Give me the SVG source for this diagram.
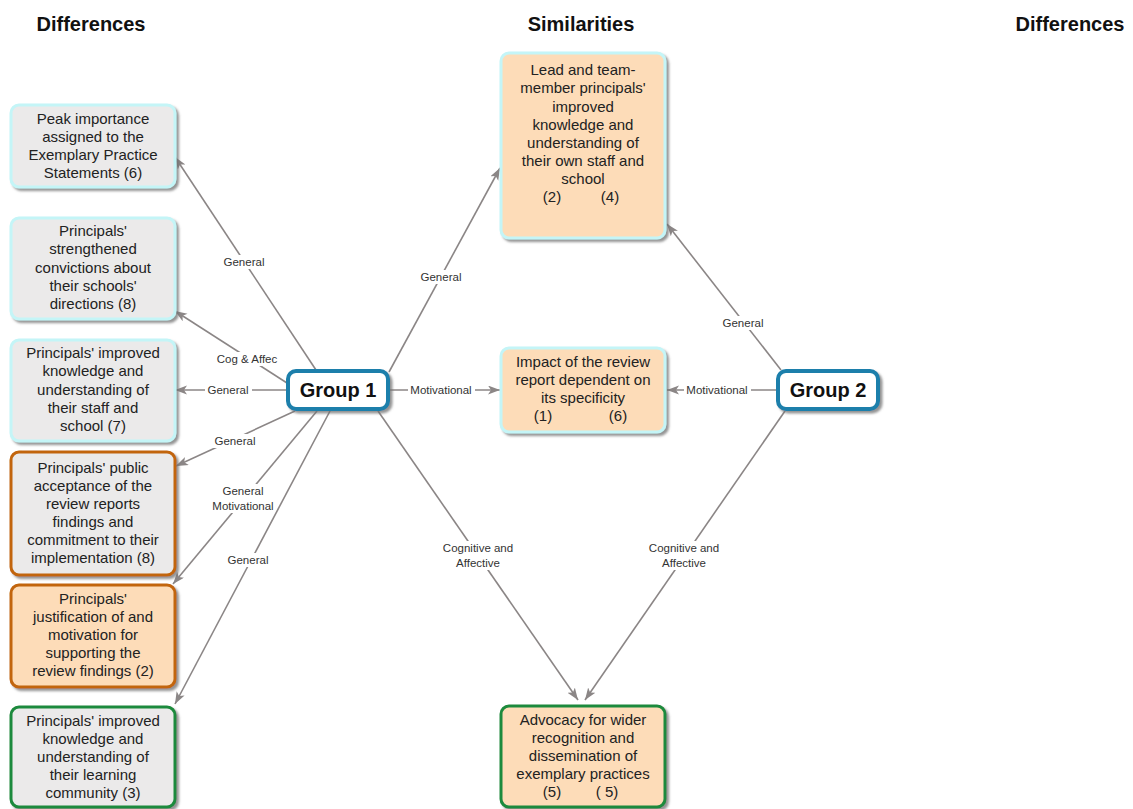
<svg xmlns="http://www.w3.org/2000/svg" width="1133" height="809" viewBox="0 0 1133 809">
  <style>
    .head { font-family: "Liberation Sans", Arial, sans-serif; font-weight: bold; font-size: 20px; fill: #111; text-anchor: middle; }
    .box { stroke-width: 3; filter: url(#shadow); }
    .cyan { stroke: #c4f5f7; }
    .orange { stroke: #c2650d; }
    .green { stroke: #1f8a3c; }
    .grey { fill: #ebeaea; }
    .peach { fill: #fddcb8; }
    .txt { font-family: "Liberation Sans", Arial, sans-serif; font-size: 15px; fill: #222; text-anchor: middle; }
    .grp { fill: #ffffff; stroke: #1c7fab; stroke-width: 4; filter: url(#shadow); }
    .gtxt { font-family: "Liberation Sans", Arial, sans-serif; font-weight: bold; font-size: 20px; fill: #111; text-anchor: middle; }
    .edge { stroke: #8b8686; stroke-width: 1.6; fill: none; marker-end: url(#arrow); }
    .lbl { font-family: "Liberation Sans", Arial, sans-serif; font-size: 11.5px; fill: #333; text-anchor: middle; }
    .lblbg { fill: #ffffff; }
  </style>
  <defs>
    <filter id="shadow" x="-10%" y="-10%" width="130%" height="130%">
      <feDropShadow dx="2.5" dy="2.5" stdDeviation="0.8" flood-color="#6f6f6f" flood-opacity="0.75"/>
    </filter>
    <marker id="arrow" markerUnits="userSpaceOnUse" markerWidth="13" markerHeight="10" refX="12" refY="4.5" orient="auto">
      <path d="M0,0 L12,4.5 L0,9 L3,4.5 z" fill="#8b8686"/>
    </marker>
  </defs>

  <rect width="1133" height="809" fill="#ffffff"/>

  <!-- column headings -->
  <text class="head" x="91" y="31">Differences</text>
  <text class="head" x="581" y="31">Similarities</text>
  <text class="head" x="1070" y="31">Differences</text>

  <!-- connectors -->
  <g id="connectors">
    <line class="edge" x1="316" y1="370" x2="175" y2="157"/>
    <line class="edge" x1="287" y1="383" x2="175" y2="311"/>
    <line class="edge" x1="287" y1="390" x2="175" y2="390"/>
    <line class="edge" x1="295" y1="411" x2="176" y2="466"/>
    <line class="edge" x1="317" y1="411" x2="173" y2="584"/>
    <line class="edge" x1="330" y1="411" x2="175" y2="704"/>
    <line class="edge" x1="389" y1="372" x2="500" y2="168"/>
    <line class="edge" x1="389" y1="390" x2="500" y2="390"/>
    <line class="edge" x1="378" y1="411" x2="578" y2="700"/>
    <line class="edge" x1="781" y1="370" x2="667" y2="224"/>
    <line class="edge" x1="777" y1="390" x2="667" y2="390"/>
    <line class="edge" x1="785" y1="411" x2="585" y2="700"/>

    <!-- edge labels -->
    <rect class="lblbg" x="220" y="255" width="48" height="14"/>
    <text class="lbl" x="244" y="266">General</text>
    <rect class="lblbg" x="214" y="352" width="66" height="14"/>
    <text class="lbl" x="247" y="363">Cog &amp; Affec</text>
    <rect class="lblbg" x="205" y="383" width="47" height="14"/>
    <text class="lbl" x="228" y="394">General</text>
    <rect class="lblbg" x="211" y="434" width="48" height="14"/>
    <text class="lbl" x="235" y="445">General</text>
    <rect class="lblbg" x="210" y="484" width="64" height="29"/>
    <text class="lbl" x="243" y="495">General</text>
    <text class="lbl" x="243" y="510">Motivational</text>
    <rect class="lblbg" x="224" y="553" width="48" height="14"/>
    <text class="lbl" x="248" y="564">General</text>
    <rect class="lblbg" x="417" y="270" width="48" height="14"/>
    <text class="lbl" x="441" y="281">General</text>
    <rect class="lblbg" x="408" y="383" width="67" height="14"/>
    <text class="lbl" x="441" y="394">Motivational</text>
    <rect class="lblbg" x="440" y="541" width="76" height="29"/>
    <text class="lbl" x="478" y="552">Cognitive and</text>
    <text class="lbl" x="478" y="567">Affective</text>
    <rect class="lblbg" x="719" y="316" width="48" height="14"/>
    <text class="lbl" x="743" y="327">General</text>
    <rect class="lblbg" x="684" y="383" width="67" height="14"/>
    <text class="lbl" x="717" y="394">Motivational</text>
    <rect class="lblbg" x="646" y="541" width="76" height="29"/>
    <text class="lbl" x="684" y="552">Cognitive and</text>
    <text class="lbl" x="684" y="567">Affective</text>
  </g>

  <!-- group hubs -->
  <g id="group1">
    <rect class="grp" x="288" y="371" width="100" height="38" rx="8"/>
    <text class="gtxt" x="338" y="397">Group 1</text>
  </g>
  <g id="group2">
    <rect class="grp" x="778" y="371" width="100" height="38" rx="8"/>
    <text class="gtxt" x="828" y="397">Group 2</text>
  </g>

  <!-- left-hand differences -->
  <g id="peak-importance">
    <rect class="box cyan grey" x="11" y="105" width="164" height="82" rx="8"/>
    <text class="txt" x="93" y="124">Peak importance</text>
    <text class="txt" x="93" y="142">assigned to the</text>
    <text class="txt" x="93" y="160">Exemplary Practice</text>
    <text class="txt" x="93" y="178">Statements (6)</text>
  </g>
  <g id="strengthened-convictions">
    <rect class="box cyan grey" x="11" y="218" width="164" height="101" rx="8"/>
    <text class="txt" x="93" y="236">Principals'</text>
    <text class="txt" x="93" y="254">strengthened</text>
    <text class="txt" x="93" y="273">convictions about</text>
    <text class="txt" x="93" y="291">their schools'</text>
    <text class="txt" x="93" y="309">directions (8)</text>
  </g>
  <g id="staff-knowledge">
    <rect class="box cyan grey" x="11" y="340" width="164" height="101" rx="8"/>
    <text class="txt" x="93" y="358">Principals' improved</text>
    <text class="txt" x="93" y="376">knowledge and</text>
    <text class="txt" x="93" y="395">understanding of</text>
    <text class="txt" x="93" y="413">their staff and</text>
    <text class="txt" x="93" y="431">school (7)</text>
  </g>
  <g id="public-acceptance">
    <rect class="box orange grey" x="11" y="452" width="164" height="123" rx="8"/>
    <text class="txt" x="93" y="473">Principals' public</text>
    <text class="txt" x="93" y="491">acceptance of the</text>
    <text class="txt" x="93" y="509">review reports</text>
    <text class="txt" x="93" y="527">findings and</text>
    <text class="txt" x="93" y="545">commitment to their</text>
    <text class="txt" x="93" y="563">implementation (8)</text>
  </g>
  <g id="justification">
    <rect class="box orange peach" x="11" y="585" width="164" height="102" rx="8"/>
    <text class="txt" x="93" y="604">Principals'</text>
    <text class="txt" x="93" y="622">justification of and</text>
    <text class="txt" x="93" y="640">motivation for</text>
    <text class="txt" x="93" y="658">supporting the</text>
    <text class="txt" x="93" y="676">review findings (2)</text>
  </g>
  <g id="learning-community">
    <rect class="box green grey" x="11" y="707" width="164" height="100" rx="8"/>
    <text class="txt" x="93" y="726">Principals' improved</text>
    <text class="txt" x="93" y="744">knowledge and</text>
    <text class="txt" x="93" y="762">understanding of</text>
    <text class="txt" x="93" y="780">their learning</text>
    <text class="txt" x="93" y="798">community (3)</text>
  </g>

  <!-- similarities -->
  <g id="own-staff-knowledge">
    <rect class="box cyan peach" x="501" y="53" width="164" height="185" rx="8"/>
    <text class="txt" x="583" y="75">Lead and team-</text>
    <text class="txt" x="583" y="93">member principals'</text>
    <text class="txt" x="583" y="112">improved</text>
    <text class="txt" x="583" y="130">knowledge and</text>
    <text class="txt" x="583" y="148">understanding of</text>
    <text class="txt" x="583" y="166">their own staff and</text>
    <text class="txt" x="583" y="184">school</text>
    <text class="txt" x="552" y="202">(2)</text>
    <text class="txt" x="610" y="202">(4)</text>
  </g>
  <g id="report-impact">
    <rect class="box cyan peach" x="501" y="348" width="164" height="84" rx="8"/>
    <text class="txt" x="583" y="367">Impact of the review</text>
    <text class="txt" x="583" y="385">report dependent on</text>
    <text class="txt" x="583" y="403">its specificity</text>
    <text class="txt" x="543" y="421">(1)</text>
    <text class="txt" x="618" y="421">(6)</text>
  </g>
  <g id="advocacy">
    <rect class="box green peach" x="501" y="706" width="164" height="101" rx="8"/>
    <text class="txt" x="583" y="725">Advocacy for wider</text>
    <text class="txt" x="583" y="743">recognition and</text>
    <text class="txt" x="583" y="761">dissemination of</text>
    <text class="txt" x="583" y="779">exemplary practices</text>
    <text class="txt" x="552" y="797">(5)</text>
    <text class="txt" x="607" y="797">( 5)</text>
  </g>
</svg>
